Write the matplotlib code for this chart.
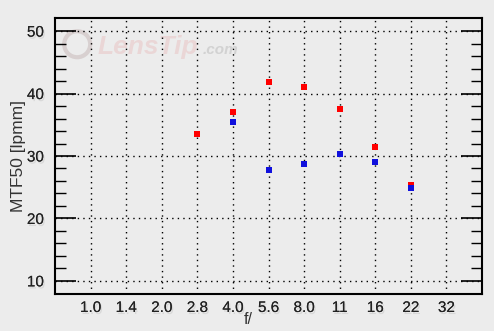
import matplotlib
matplotlib.use("Agg")
import matplotlib.pyplot as plt
import matplotlib.patheffects as pe
from matplotlib.patches import Ellipse

plt.rcParams["font.family"] = ["Liberation Sans", "DejaVu Sans"]

# f-numbers on the x axis (categorical positions)
f_stops = ["1.0", "1.4", "2.0", "2.8", "4.0", "5.6", "8.0", "11", "16", "22", "32"]

# MTF50 readings
red_f = ["2.8", "4.0", "5.6", "8.0", "11", "16", "22"]
red_mtf = [33.5, 37.1, 41.9, 41.1, 37.5, 31.5, 25.3]
blue_f = ["4.0", "5.6", "8.0", "11", "16", "22"]
blue_mtf = [35.5, 27.7, 28.7, 30.4, 29.0, 24.8]

bg = "#ececec"
shadow = [pe.withSimplePatchShadow(offset=(1, -1.5), shadow_rgbFace="#c4c4c4", alpha=0.5),
          pe.Normal()]

fig = plt.figure(figsize=(4.94, 3.31), dpi=100, facecolor=bg)
ax = fig.add_axes([55 / 494, 1 - 294 / 331, 427 / 494, 276 / 331])
ax.set_facecolor(bg)

xi = {f: i for i, f in enumerate(f_stops)}
ax.scatter([xi[f] for f in red_f], red_mtf, marker="s", s=22, color="#ff0000", zorder=3, linewidths=0)
ax.scatter([xi[f] for f in blue_f], blue_mtf, marker="s", s=22, color="#1010dd", zorder=4, linewidths=0)

ax.set_xlim(-1, 11)
ax.set_ylim(7.9, 52.1)
ax.set_xticks(range(len(f_stops)))
ax.set_xticklabels(f_stops)
ax.set_yticks([10, 20, 30, 40, 50])
ax.set_yticks(range(12, 52, 2), minor=True)

ax.grid(True, which="major", color="black", linestyle=(0, (1, 3)), linewidth=1)
ax.tick_params(axis="x", length=0, pad=5, labelsize=11, labelcolor="#222222")
ax.tick_params(axis="y", which="major", direction="in", length=15, width=1.2,
               right=True, labelsize=11, labelcolor="#222222", pad=8)
ax.tick_params(axis="y", which="minor", direction="in", length=8, width=1, right=True)
for spine in ax.spines.values():
    spine.set_linewidth(1.5)

for lab in ax.get_xticklabels() + ax.get_yticklabels():
    lab.set_path_effects(shadow)

ax.set_ylabel("MTF50 [lpmm]", fontsize=12.5, color="#333333", labelpad=1)
ax.set_xlabel("f/", fontsize=11.5, color="#333333")
ax.xaxis.set_label_coords(0.452, -0.065)

# faint watermark
ax.add_patch(Ellipse((0.052, 0.905), 26 / 427, 26 / 276, transform=ax.transAxes, fill=False,
                     edgecolor="#d8d0d0", linewidth=3, zorder=1))
ax.text(0.10, 0.895, "LensTip", transform=ax.transAxes, fontsize=19, fontstyle="italic",
        fontweight="bold", color="#ead6d6", va="center", zorder=1)
ax.text(0.345, 0.885, ".com", transform=ax.transAxes, fontsize=11, fontstyle="italic",
        fontweight="bold", color="#d2d2d2", va="center", zorder=1)

fig.savefig("out.png", dpi=100, facecolor=bg)
